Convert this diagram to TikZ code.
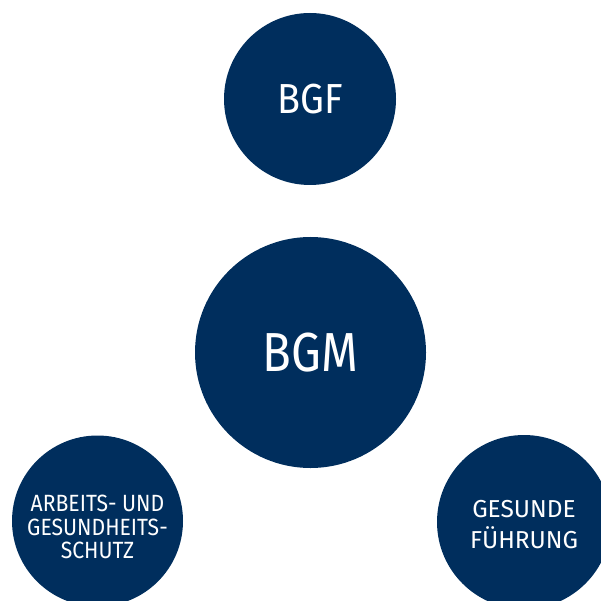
\documentclass[tikz,border=0pt]{standalone}
\usepackage{fontspec}
\setmainfont[FakeStretch=0.86]{Fira Sans}
\newfontfamily\bgfnarrow[FakeStretch=0.9]{Fira Sans}
\newfontfamily\bgfwide[FakeStretch=1.0]{Fira Sans}
\usepackage{tikz}
\definecolor{bgmblue}{RGB}{0,46,93}

\begin{document}
\begin{tikzpicture}[x=1pt,y=-1pt,
	bubble/.style={circle,fill=bgmblue,text=white,inner sep=0pt,align=center},
	bubbletext/.style={text=white,inner sep=0pt,align=center}]
			\useasboundingbox (0,0) rectangle (601,601);
			\clip (0,0) rectangle (601,601);
			\coordinate (bgf_c) at (310,99);
			\coordinate (bgm_c) at (310.5,352.5);
			\coordinate (abs_c) at (97.5,521);
			\coordinate (gf_c) at (524,522);

			\node[bubble,minimum size=172pt,font=\bgfnarrow\fontsize{42}{48}\selectfont] (bgf) at (bgf_c) {BGF};
			\node[bubble,minimum size=231pt,font=\fontsize{55}{64}\selectfont] (bgm) at (bgm_c) {BGM};
			\node[bubble,minimum size=171pt] (abs) at (abs_c) {};
			\node[bubbletext,font=\bgfnarrow\fontsize{23.5}{23.5}\selectfont] (abs_txt) at ([yshift=-6pt]abs.center) {ARBEITS- UND\\GESUNDHEITS-\\SCHUTZ};
			\node[bubble,minimum size=174pt] (gf) at (gf_c) {};
			\node[bubbletext,font=\bgfwide\fontsize{24.5}{31}\selectfont] (gf_txt) at ([yshift=-3pt]gf.center) {GESUNDE\\FÜHRUNG};
		\end{tikzpicture}
\end{document}
